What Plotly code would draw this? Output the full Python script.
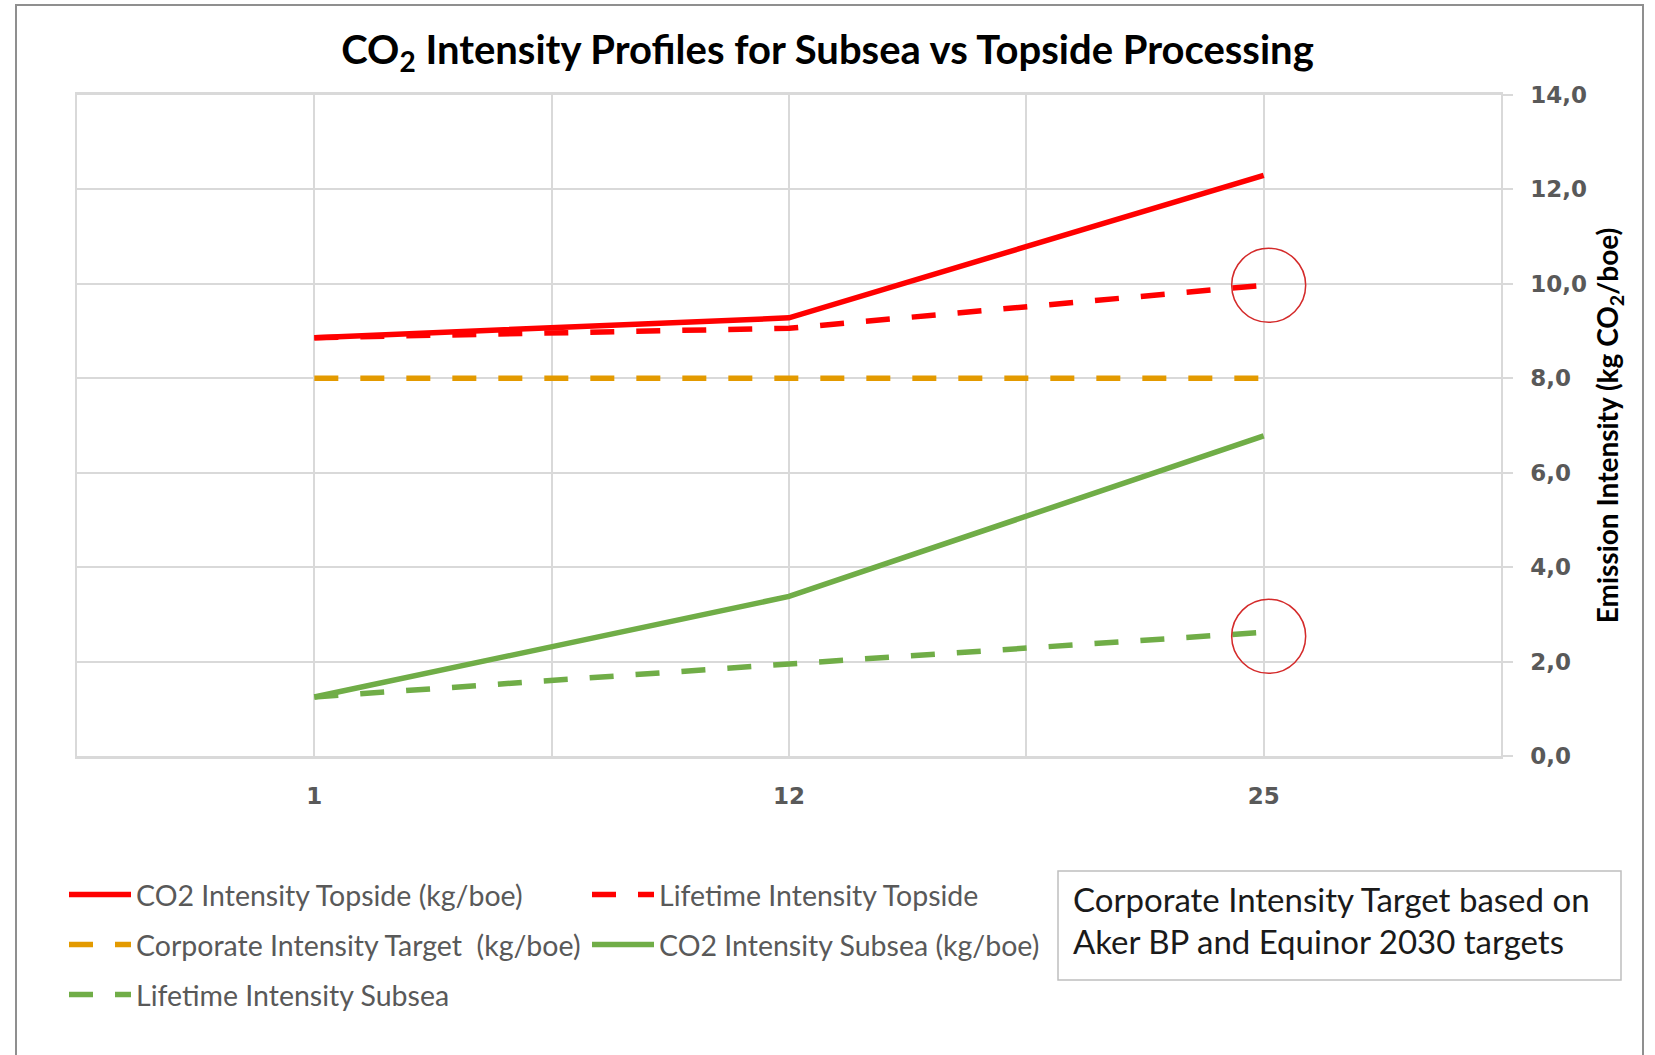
import plotly.graph_objects as go

# ---- data ----
categories = ["1", "12", "25"]
co2_topside = [8.86, 9.28, 12.30]
lifetime_topside = [8.86, 9.06, 9.97]
corporate_target = [8.0, 8.0, 8.0]
co2_subsea = [1.25, 3.38, 6.78]
lifetime_subsea = [1.25, 1.95, 2.62]

y_ticks = [0, 2, 4, 6, 8, 10, 12, 14]

# ---- layout geometry (pixels) ----
W_PX, H_PX = 1655, 1055
L, R, T, B = 77, 1501, 95, 756
PW, PH = R - L, B - T


def px(x):
    return (x - L) / PW


def py(y):
    return (B - y) / PH


xi = list(range(len(categories)))

LEG_FONT = dict(family="Lato", size=28.5, color="#595959")
DASH = "24px,22px"

fig = go.Figure()

series = [
    ("CO2 Intensity Topside (kg/boe)", co2_topside, "#ff0000", "solid", "legend"),
    ("Lifetime Intensity Topside", lifetime_topside, "#ff0000", DASH, "legend"),
    ("Corporate Intensity Target \u00a0(kg/boe)", corporate_target, "#e39a00", DASH, "legend2"),
    ("CO2 Intensity Subsea (kg/boe)", co2_subsea, "#70ad47", "solid", "legend2"),
    ("Lifetime Intensity Subsea", lifetime_subsea, "#70ad47", DASH, "legend3"),
]
for name, vals, color, dash, leg in series:
    fig.add_trace(go.Scatter(
        x=xi, y=vals, name=name, mode="lines",
        line=dict(color=color, width=5.5, dash=dash),
        legend=leg,
    ))

# highlight circles at the end of the lifetime series
for vals, dy in [(lifetime_topside, 0), (lifetime_subsea, -4)]:
    fig.add_shape(
        type="circle", xref="x", yref="y",
        xsizemode="pixel", ysizemode="pixel",
        xanchor=xi[-1], yanchor=vals[-1],
        x0=-32, x1=42, y0=dy - 37, y1=dy + 37,
        line=dict(color="#d42a2a", width=1.5),
    )

# outer chart frame
fig.add_shape(type="rect", xref="paper", yref="paper",
              x0=px(16), x1=px(1643), y0=py(1070), y1=py(5),
              line=dict(color="#8f8f8f", width=2), layer="below")

# text box
fig.add_shape(type="rect", xref="paper", yref="paper",
              x0=px(1058), x1=px(1621), y0=py(980), y1=py(871),
              line=dict(color="#bfbfbf", width=1.5))
for txt, yy in [("Corporate Intensity Target based on", 899),
                ("Aker BP and Equinor 2030 targets", 941)]:
    fig.add_annotation(text=txt, xref="paper", yref="paper",
                       x=px(1071), y=py(yy), xanchor="left", yanchor="middle",
                       showarrow=False,
                       font=dict(family="Lato", size=33, color="#1a1a1a"))

leg_common = dict(orientation="h", xanchor="left", yanchor="middle",
                  font=LEG_FONT, entrywidth=446, entrywidthmode="pixels",
                  itemwidth=62, bgcolor="rgba(0,0,0,0)", borderwidth=0,
                  tracegroupgap=0)

fig.update_layout(
    width=W_PX, height=H_PX,
    margin=dict(l=L, r=W_PX - R, t=T, b=H_PX - B, autoexpand=False),
    paper_bgcolor="white", plot_bgcolor="white",
    separators=", ",
    title=dict(
        text="CO<sub>2</sub> Intensity Profiles for Subsea vs Topside Processing",
        x=0.5, xref="container", xanchor="center",
        y=1 - 50 / H_PX, yref="container", yanchor="middle",
        font=dict(family="Lato", size=40, color="#000000", weight="bold"),
    ),
    xaxis=dict(
        range=[-0.5, len(categories) - 0.5],
        tickmode="array", tickvals=xi, ticktext=categories,
        showgrid=True, gridcolor="#d9d9d9", gridwidth=1.5,
        minor=dict(tickmode="array", tickvals=[i - 0.5 for i in range(len(categories) + 1)],
                   showgrid=True, gridcolor="#d9d9d9", gridwidth=1.5),
        showline=True, linecolor="#d9d9d9", linewidth=2.5, mirror=True,
        ticks="", ticklabelstandoff=18,
        tickfont=dict(family="DejaVu Sans", size=23, color="#595959", weight="bold"),
        zeroline=False, fixedrange=True,
    ),
    yaxis=dict(
        side="right", range=[0, 14], tickmode="array", tickvals=y_ticks,
        tickformat=".1f",
        showgrid=True, gridcolor="#d9d9d9", gridwidth=1.5,
        showline=True, linecolor="#d9d9d9", linewidth=1.5, mirror=True,
        ticks="outside", ticklen=10, tickcolor="#d9d9d9", tickwidth=1.5,
        ticklabelstandoff=13,
        tickfont=dict(family="DejaVu Sans", size=23, color="#595959", weight="bold"),
        title=dict(text="Emission Intensity (kg CO<sub>2</sub>/boe)", standoff=12,
                   font=dict(family="Lato", size=28, color="#000000", weight="bold")),
        zeroline=False, fixedrange=True,
    ),
    legend=dict(x=px(64), y=py(895), **leg_common),
    legend2=dict(x=px(64), y=py(945), **leg_common),
    legend3=dict(x=px(64), y=py(995), **leg_common),
)

fig.write_html("out.html")
